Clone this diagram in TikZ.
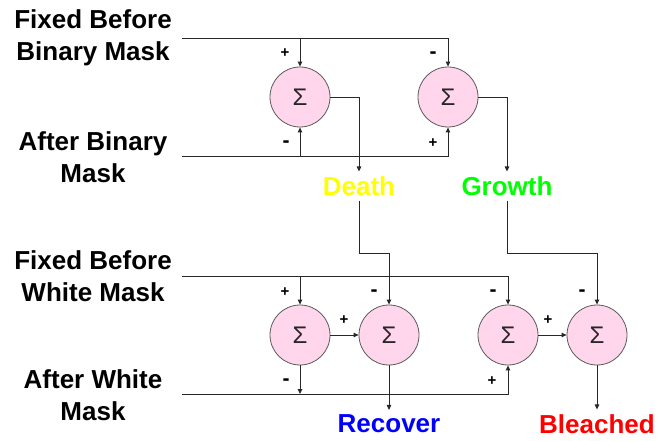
\documentclass[tikz,border=0pt]{standalone}
\usepackage{fontspec}
\setmainfont{Liberation Sans}
\usetikzlibrary{arrows.meta,calc}
\definecolor{sumfill}{RGB}{255,214,236}
\definecolor{sumedge}{RGB}{90,90,90}
\definecolor{wirecol}{RGB}{40,40,40}
\definecolor{deathcol}{RGB}{255,255,0}
\definecolor{growthcol}{RGB}{0,255,0}
\definecolor{recovercol}{RGB}{0,0,255}
\definecolor{bleachcol}{RGB}{255,0,0}
\begin{document}
\begin{tikzpicture}[x=1pt,y=-1pt,
  sumnode/.style={circle,draw=sumedge,fill=sumfill,line width=0.8pt,minimum size=60pt,inner sep=0pt,
    text=black!85,font=\fontsize{24}{24}\selectfont},
  wire/.style={draw=wirecol,line width=0.9pt},
  arr/.style={wire,-{Triangle[length=5pt,width=4.5pt]}},
  inlabel/.style={align=center,font=\fontsize{26}{32}\bfseries\selectfont},
  outlabel/.style={font=\fontsize{26}{26}\bfseries\selectfont,inner sep=0pt,outer sep=5pt},
  plus/.style={font=\fontsize{15}{15}\bfseries\selectfont,inner sep=0pt},
  minus/.style={font=\fontsize{21}{21}\bfseries\selectfont,inner sep=0pt}]
\useasboundingbox (0,0) rectangle (670,441);

% input labels
\node[inlabel] (lfb) at (93,38) {Fixed Before\\Binary Mask};
\node[inlabel] (lab) at (93,157) {After Binary\\Mask};
\node[inlabel] (lfw) at (93,276) {Fixed Before\\White Mask};
\node[inlabel] (law) at (93,395) {After White\\Mask};

% start points of the input lines
\coordinate (fb) at (182,38);
\coordinate (ab) at (182,156);
\coordinate (fw) at (182,276);
\coordinate (aw) at (182,394);

% summing junctions
\node[sumnode] (s1) at (300,97) {Σ};
\node[sumnode] (s2) at (448,97) {Σ};
\node[sumnode] (sA) at (300,335) {Σ};
\node[sumnode] (sB) at (389,335) {Σ};
\node[sumnode] (sC) at (508,335) {Σ};
\node[sumnode] (sD) at (597,335) {Σ};

% output labels
\node[outlabel,text=deathcol] (death) at (359,186) {Death};
\node[outlabel,text=growthcol] (growth) at (507,186) {Growth};
\node[outlabel,text=recovercol] (recover) at (389,424) {Recover};
\node[outlabel,text=bleachcol] (bleached) at (597,424) {Bleached};

% binary mask stage
\draw[arr] (fb) -| (s2.north);
\draw[arr] (s1.north |- fb) -- (s1.north);
\draw[arr] (ab) -| (s2.south);
\draw[arr] (s1.south |- ab) -- (s1.south);
\draw[arr] (s1.east) -| (death.north);
\draw[arr] (s2.east) -| (growth.north);

% white mask stage
\draw[arr] (fw) -| (sC.north);
\draw[arr] (sA.north |- fw) -- (sA.north);
\draw[arr] (aw) -| (sC.south);
\draw[arr] (sA.south) -- (sA.south |- aw);
\draw[arr] (sA.east) -- (sB.west);
\draw[arr] (sC.east) -- (sD.west);
\draw[arr] (death.south) -- ++(0,53) -| (sB.north);
\draw[arr] (growth.south) -- ++(0,53) -| (sD.north);
\draw[arr] (sB.south) -- (recover.north);
\draw[arr] (sD.south) -- (bleached.north);

% signs
\node[plus] (p1) at (285,53) {+};
\node[minus] (m1) at (286,144) {-};
\node[minus] (m2) at (433,55) {-};
\node[plus] (p2) at (433,143) {+};
\node[plus] (pA) at (285,292) {+};
\node[minus] (mA) at (286,382) {-};
\node[plus] (pB) at (344,320) {+};
\node[minus] (mB) at (374,293) {-};
\node[minus] (mC) at (493,293) {-};
\node[plus] (pC) at (492,381) {+};
\node[plus] (pD) at (548,320) {+};
\node[minus] (mD) at (582,293) {-};
\end{tikzpicture}
\end{document}
